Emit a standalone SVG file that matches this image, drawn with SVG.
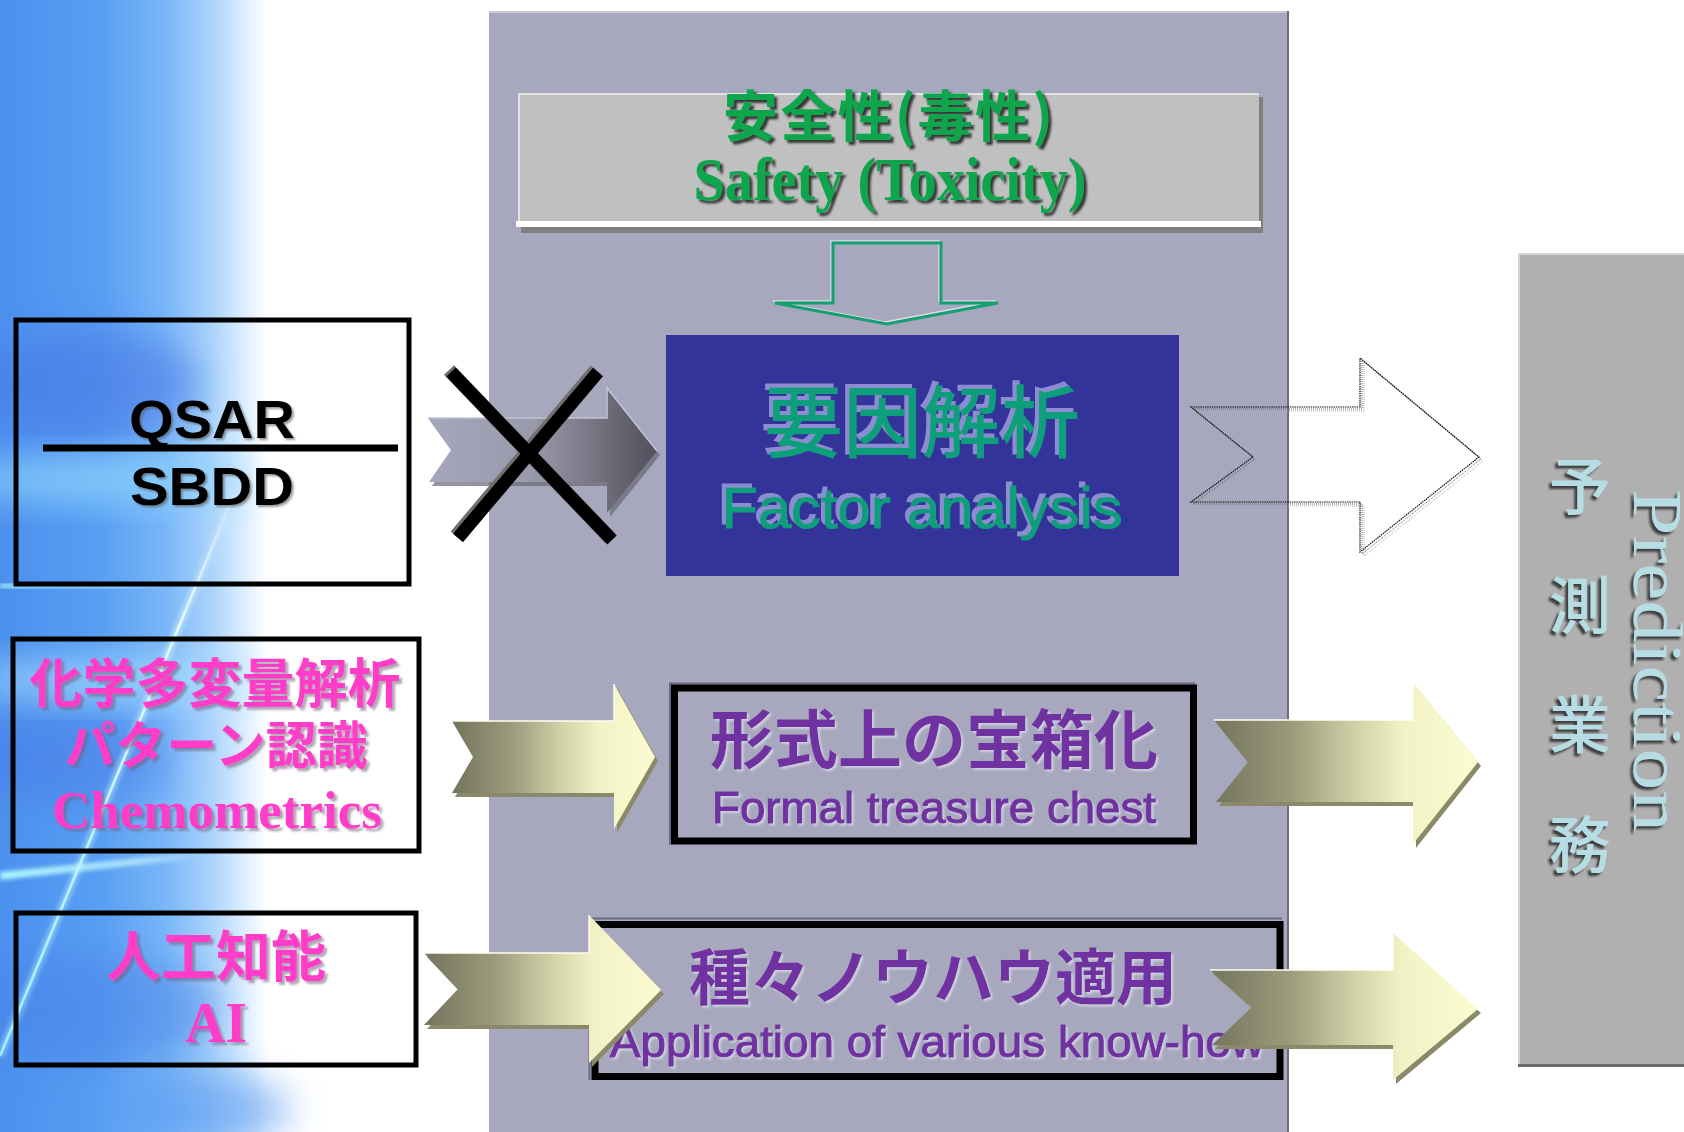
<svg xmlns="http://www.w3.org/2000/svg" width="1684" height="1132" viewBox="0 0 1684 1132">
<style>
.cjk{font-family:"Noto Sans CJK JP","Noto Sans CJK SC",sans-serif;}
.sans{font-family:"Liberation Sans",Arial,sans-serif;}
.serif{font-family:"Liberation Serif","Times New Roman",serif;}
.box{fill:none;stroke:#000;stroke-width:5;}
.pink{fill:#ff3cc8;font-weight:700;}
.purple{fill:#7030a0;}
.teal{fill:#0f9e7c;}
.green{fill:#0aa64e;font-weight:700;}
.pale{fill:#b6dde4;}
.thick{stroke-width:1.1;}
.purple.thick{stroke:#7030a0;}
.teal.thick{stroke:#0f9e7c;}
.yshadow{fill:#8a8a6a;}
.yarrow{fill:url(#gYellow);}
.yhl{fill:none;stroke:#fffff0;stroke-width:1.5;}
.inner{fill:#a7a7bd;stroke:#000;stroke-width:7;}
.rim{fill:none;stroke:#6a6a7c;stroke-width:2;}
</style>
<defs>
<linearGradient id="gBlue" gradientUnits="userSpaceOnUse" x1="0" y1="0" x2="330" y2="0">
<stop offset="0" stop-color="#4c90ee"/>
<stop offset="0.3" stop-color="#589ef3"/>
<stop offset="0.5" stop-color="#78b6f8"/>
<stop offset="0.63" stop-color="#a6d1fb"/>
<stop offset="0.73" stop-color="#d6ebfe"/>
<stop offset="0.81" stop-color="#ffffff"/>
</linearGradient>
<linearGradient id="gStreak" gradientUnits="userSpaceOnUse" x1="240" y1="480" x2="0" y2="1056">
<stop offset="0" stop-color="#ffffff" stop-opacity="0"/>
<stop offset="0.25" stop-color="#e8ffff" stop-opacity="0.9"/>
<stop offset="1" stop-color="#a8f4ff" stop-opacity="0.9"/>
</linearGradient>
<linearGradient id="gHStreak" x1="0" y1="0" x2="1" y2="0">
<stop offset="0" stop-color="#a8f8ff" stop-opacity="1"/>
<stop offset="0.7" stop-color="#c8f8ff" stop-opacity="0.7"/>
<stop offset="1" stop-color="#ffffff" stop-opacity="0"/>
</linearGradient>
<linearGradient id="gYellow" x1="0" y1="0" x2="1" y2="0">
<stop offset="0" stop-color="#74745e"/>
<stop offset="0.3" stop-color="#9c9c7c"/>
<stop offset="0.55" stop-color="#d4d4aa"/>
<stop offset="0.72" stop-color="#f2f2c6"/>
<stop offset="1" stop-color="#fcfcd2"/>
</linearGradient>
<linearGradient id="gGray" gradientUnits="userSpaceOnUse" x1="428" y1="0" x2="657" y2="0">
<stop offset="0" stop-color="#a6a6bc"/>
<stop offset="0.45" stop-color="#9a9aae"/>
<stop offset="0.75" stop-color="#72727f"/>
<stop offset="1" stop-color="#50505c"/>
</linearGradient>
<filter id="fBlur" x="-50%" y="-50%" width="200%" height="200%"><feGaussianBlur stdDeviation="18"/></filter>
<filter id="fBlurS" x="-20%" y="-20%" width="140%" height="140%"><feGaussianBlur stdDeviation="2"/></filter>
<filter id="fGray" x="-10%" y="-20%" width="130%" height="150%"><feDropShadow dx="2" dy="2" stdDeviation="1" flood-color="#555" flood-opacity="0.6"/></filter>
<filter id="fPink" x="-10%" y="-20%" width="130%" height="150%"><feDropShadow dx="3" dy="3" stdDeviation="1" flood-color="#70607a" flood-opacity="0.55"/></filter>
<filter id="fDark" x="-10%" y="-20%" width="130%" height="150%"><feDropShadow dx="3" dy="3" stdDeviation="1" flood-color="#202020" flood-opacity="0.85"/></filter>
<filter id="fLav" x="-10%" y="-20%" width="130%" height="150%"><feDropShadow dx="-4" dy="-4" stdDeviation="0.5" flood-color="#8c8cd2" flood-opacity="1"/></filter>
<filter id="fLight" x="-10%" y="-20%" width="130%" height="150%"><feDropShadow dx="2" dy="2" stdDeviation="1" flood-color="#d4d4e4" flood-opacity="0.9"/></filter>
<filter id="fPred" x="-20%" y="-20%" width="140%" height="140%"><feDropShadow dx="-3" dy="3" stdDeviation="1" flood-color="#202020" flood-opacity="0.8"/></filter>
<filter id="fPredR" x="-20%" y="-40%" width="140%" height="180%"><feDropShadow dx="3" dy="3" stdDeviation="1" flood-color="#202020" flood-opacity="0.8"/></filter>
</defs>

<g id="background">
<rect x="0" y="0" width="1684" height="1132" fill="#ffffff"/>
<rect x="0" y="0" width="330" height="1132" fill="url(#gBlue)"/>
<ellipse cx="90" cy="385" rx="110" ry="55" fill="#4a74e4" opacity="0.55" filter="url(#fBlur)"/>
<ellipse cx="100" cy="480" rx="150" ry="22" fill="#8ed6fc" opacity="0.8" filter="url(#fBlur)"/>
<ellipse cx="70" cy="760" rx="100" ry="45" fill="#4a7ce6" opacity="0.5" filter="url(#fBlur)"/>
<ellipse cx="110" cy="680" rx="150" ry="20" fill="#b0e4ff" opacity="0.7" filter="url(#fBlur)"/>
<ellipse cx="90" cy="1010" rx="130" ry="55" fill="#4a82e6" opacity="0.5" filter="url(#fBlur)"/>
<ellipse cx="200" cy="1110" rx="90" ry="40" fill="#5a9af0" opacity="0.6" filter="url(#fBlur)"/>
<line x1="240" y1="480" x2="0" y2="1056" stroke="url(#gStreak)" stroke-width="8" opacity="0.5" filter="url(#fBlurS)"/>
<line x1="240" y1="480" x2="0" y2="1056" stroke="url(#gStreak)" stroke-width="2.5"/>
<rect x="0" y="584" width="170" height="4" fill="url(#gHStreak)" filter="url(#fBlurS)"/>
<path d="M0,872 L200,852 L200,858 L0,880 Z" fill="url(#gHStreak)" filter="url(#fBlurS)"/>
</g>

<g id="panel">
<rect x="489" y="11" width="799" height="1121" fill="#a7a7bd"/>
<line x1="489" y1="12" x2="1288" y2="12" stroke="#c8c8d8" stroke-width="2"/>
<line x1="1288" y1="11" x2="1288" y2="1132" stroke="#6c6c80" stroke-width="2"/>
</g>

<g id="node-prediction">
<rect x="1518" y="253" width="170" height="812" fill="#b0b0b0"/>
<line x1="1519" y1="253" x2="1519" y2="1065" stroke="#d4d4d4" stroke-width="2"/>
<line x1="1518" y1="254" x2="1684" y2="254" stroke="#d4d4d4" stroke-width="2"/>
<line x1="1518" y1="1065.5" x2="1684" y2="1065.5" stroke="#6a6a6a" stroke-width="3"/>
<text class="cjk pale" font-size="62" font-weight="500" text-anchor="middle" filter="url(#fPred)"><tspan x="1580" y="510">予</tspan><tspan x="1580" y="629">測</tspan><tspan x="1580" y="748">業</tspan><tspan x="1580" y="868">務</tspan></text>
<text class="serif pale" font-size="70" transform="translate(1634,489) rotate(90)" textLength="343" lengthAdjust="spacingAndGlyphs" filter="url(#fPredR)">Prediction</text>
</g>

<g id="node-qsar">
<rect class="box" x="16" y="320" width="393" height="264"/>
<text class="sans" x="212" y="438" font-size="54" font-weight="700" text-anchor="middle" textLength="166" lengthAdjust="spacingAndGlyphs" filter="url(#fGray)">QSAR</text>
<line x1="43" y1="448" x2="398" y2="448" stroke="#000" stroke-width="7"/>
<text class="sans" x="212" y="505" font-size="54" font-weight="700" text-anchor="middle" textLength="164" lengthAdjust="spacingAndGlyphs" filter="url(#fGray)">SBDD</text>
</g>

<g id="node-chemometrics">
<rect class="box" x="13" y="639" width="406" height="212"/>
<text class="cjk pink" x="215" y="703" font-size="53" text-anchor="middle" filter="url(#fPink)">化学多変量解析</text>
<text class="cjk pink" x="216" y="764" font-size="51" text-anchor="middle" filter="url(#fPink)">パターン認識</text>
<text class="serif pink" x="217" y="828" font-size="53" text-anchor="middle" textLength="330" lengthAdjust="spacingAndGlyphs" filter="url(#fPink)">Chemometrics</text>
</g>

<g id="node-ai">
<rect class="box" x="16" y="913" width="400" height="152"/>
<text class="cjk pink" x="216" y="976" font-size="55" text-anchor="middle" filter="url(#fPink)">人工知能</text>
<text class="serif pink" x="216" y="1042" font-size="56" text-anchor="middle" filter="url(#fPink)">AI</text>
</g>

<g id="node-safety">
<rect x="521" y="97" width="742" height="136" fill="#808080"/>
<rect x="518" y="93" width="741" height="129" fill="#c0c0c0"/>
<path d="M519,222 V94 H1259" fill="none" stroke="#e2e2e2" stroke-width="2"/>
<rect x="516" y="221" width="745" height="6" fill="#ffffff"/>
<text class="cjk green" x="888" y="136" font-size="55" text-anchor="middle" textLength="330" filter="url(#fDark)">安全性(毒性)</text>
<text class="serif green" x="890" y="200" font-size="61" text-anchor="middle" textLength="393" lengthAdjust="spacingAndGlyphs" filter="url(#fDark)">Safety (Toxicity)</text>
</g>

<g id="node-factor">
<rect x="666" y="335" width="513" height="241" fill="#333399"/>
<text class="cjk teal" x="922" y="452" font-size="79" font-weight="500" text-anchor="middle" filter="url(#fLav)">要因解析</text>
<text class="sans teal thick" x="922" y="528" font-size="57" text-anchor="middle" textLength="401" lengthAdjust="spacingAndGlyphs" filter="url(#fLav)">Factor analysis</text>
</g>

<g id="node-formal">
<path class="rim" d="M670,845 V683.5 H1195"/>
<rect class="inner" x="674.5" y="688" width="519" height="153"/>
<text class="cjk purple" x="934" y="763" font-size="64" font-weight="700" text-anchor="middle" filter="url(#fLight)">形式上の宝箱化</text>
<text class="sans purple thick" x="934" y="823" font-size="45" text-anchor="middle" textLength="444" lengthAdjust="spacingAndGlyphs" filter="url(#fLight)">Formal treasure chest</text>
</g>

<g id="node-knowhow">
<path class="rim" d="M589.5,1080 V918.5 H1282"/>
<rect class="inner" x="595" y="924.5" width="685" height="152"/>
<text class="cjk purple" x="933" y="1000" font-size="61" font-weight="700" text-anchor="middle" filter="url(#fLight)">種々ノウハウ適用</text>
<text class="sans purple thick" x="937" y="1057" font-size="45" text-anchor="middle" textLength="654" lengthAdjust="spacingAndGlyphs" filter="url(#fLight)">Application of various know-how</text>
</g>

<g id="connectors">
<!-- safety -> factor (green outline down arrow) -->
<polygon points="833,243 941,243 941,303 998,303 887,324 775,303 833,303" fill="none" stroke="#dcdce8" stroke-width="1.5" transform="translate(-2,-2)"/>
<polygon points="833,243 941,243 941,303 998,303 887,324 775,303 833,303" fill="none" stroke="#14a070" stroke-width="3"/>

<!-- QSAR -> factor (gray, crossed out) -->
<polygon points="428,418 607,418 607,388 657,451 607,513 607,482 429,482 451,450" fill="#666676" opacity="0.7" transform="translate(3,4)"/>
<polygon points="428,418 607,418 607,388 657,451 607,513 607,482 429,482 451,450" fill="url(#gGray)"/>
<polyline points="428,418 607,418 607,388 657,451" fill="none" stroke="#c4c4d4" stroke-width="1.5"/>
<line x1="449" y1="370" x2="610" y2="538" stroke="#707070" stroke-width="14"/>
<line x1="596" y1="370" x2="456" y2="536" stroke="#707070" stroke-width="14"/>
<line x1="451" y1="372" x2="612" y2="540" stroke="#000" stroke-width="13"/>
<line x1="598" y1="372" x2="458" y2="538" stroke="#000" stroke-width="13"/>

<!-- factor -> prediction (white outline arrow) -->
<polygon points="1191,407 1360,407 1360,358 1479,457 1360,552 1360,502 1191,502 1253,457" fill="none" stroke="#aaaaaa" stroke-width="1" stroke-dasharray="1 1" transform="translate(4,4)"/>
<polygon points="1191,407 1360,407 1360,358 1479,457 1360,552 1360,502 1191,502 1253,457" fill="none" stroke="#666666" stroke-width="1" stroke-dasharray="1 1" transform="translate(2,2)"/>
<polygon points="1191,407 1360,407 1360,358 1479,457 1360,552 1360,502 1191,502 1253,457" fill="none" stroke="#111111" stroke-width="1.2" stroke-dasharray="1.5 0.8"/>

<!-- chemometrics -> formal -->
<polygon class="yshadow" points="452,721 614,721 614,684 655,757 614,829 614,793 452,793 473,757" transform="translate(3,4)"/>
<polygon class="yarrow" points="452,721 614,721 614,684 655,757 614,829 614,793 452,793 473,757"/>
<polyline class="yhl" points="452,721 614,721 614,684"/>

<!-- ai -> knowhow -->
<polygon class="yshadow" points="424,953 589,953 589,915 661,990 589,1063 589,1025 424,1025 458,989" transform="translate(3,4)"/>
<polygon class="yarrow" points="424,953 589,953 589,915 661,990 589,1063 589,1025 424,1025 458,989"/>
<polyline class="yhl" points="424,953 589,953 589,915"/>

<!-- formal -> prediction -->
<polygon class="yshadow" points="1214,720 1413,720 1413,683 1478,762 1413,844 1413,802 1216,802 1248,762" transform="translate(3,4)"/>
<polygon class="yarrow" points="1214,720 1413,720 1413,683 1478,762 1413,844 1413,802 1216,802 1248,762"/>
<polyline class="yhl" points="1214,720 1413,720 1413,683"/>

<!-- knowhow -> prediction -->
<polygon class="yshadow" points="1210,970 1393,970 1393,933 1478,1009 1393,1080 1393,1045 1212,1045 1252,1007" transform="translate(3,4)"/>
<polygon class="yarrow" points="1210,970 1393,970 1393,933 1478,1009 1393,1080 1393,1045 1212,1045 1252,1007"/>
<polyline class="yhl" points="1210,970 1393,970 1393,933"/>
</g>
</svg>
